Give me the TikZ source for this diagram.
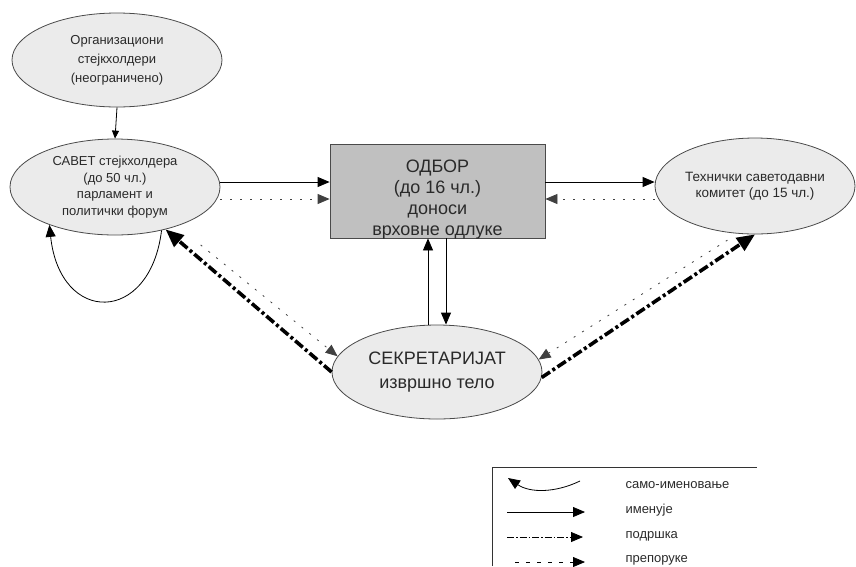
\documentclass[tikz,border=0pt]{standalone}
\usepackage{fontspec}
\setmainfont{Liberation Sans}
\usetikzlibrary{shapes.geometric,arrows.meta}
\definecolor{ellfill}{HTML}{EBEBEB}
\definecolor{boxfill}{HTML}{C0C0C0}
\definecolor{txt}{HTML}{2A2A2A}
\definecolor{edge}{HTML}{4A4A4A}

\tikzset{
  ell/.style={ellipse, draw=edge, fill=ellfill, line width=0.8pt, inner sep=0pt,
              text=txt, align=center},
  smalltxt/.style={font=\fontsize{13}{19}\selectfont},
  bigtxt/.style={font=\fontsize{18}{24}\selectfont},
  tipS/.style={-{Triangle[length=12pt,width=10pt]}},
  tipL/.style={-{Triangle[length=18pt,width=15pt]}},
  names/.style={line width=0.8pt, tipS},
  recommends/.style={line width=0.8pt, draw=black!75, dash pattern=on 2pt off 8pt, tipS},
  supports/.style={line width=3.6pt, dash pattern=on 10pt off 3pt on 3pt off 3pt, tipL},
  legtxt/.style={anchor=west, text=txt, font=\fontsize{13}{14}\selectfont},
}

\begin{document}
\begin{tikzpicture}[x=1pt,y=-1pt]
  \useasboundingbox (0,0) rectangle (856,566);

  % stakeholder groups and bodies
  \node[ell, smalltxt, minimum width=210pt, minimum height=94pt] (org) at (117,60)
    {Организациони\\стејкхолдери\\(неограничено)};
  \node[ell, font=\fontsize{13}{16.5}\selectfont, minimum width=210pt, minimum height=96pt] (savet) at (115,187)
    {САВЕТ стејкхолдера\\(до 50 чл.)\\парламент и\\политички форум};
  \node[draw=edge, fill=boxfill, line width=0.8pt, minimum width=215pt, minimum height=94pt,
        inner sep=0pt] (odbor) at (437.5,191) {};
  \node[text=txt, align=center, font=\fontsize{18}{21}\selectfont] (odbortxt) at (437.5,200)
    {ОДБОР\\(до 16 чл.)\\доноси\\врховне одлуке};
  \node[ell, font=\fontsize{13.5}{16}\selectfont, minimum width=200pt, minimum height=96pt] (tech) at (755,186)
    {Технички саветодавни\\комитет (до 15 чл.)};
  \node[ell, bigtxt, minimum width=210pt, minimum height=94pt] (sek) at (437,372)
    {СЕКРЕТАРИЈАТ\\извршно тело};

  % appointments
  \draw[line width=0.8pt, -{Triangle[length=8pt,width=7pt]}] (org.south) -- (savet.north);
  \draw[names] (savet.east |- 0,182) -- (odbor.west |- 0,182);
  \draw[names] (odbor.east |- 0,182) -- (tech.west |- 0,182);
  \draw[names] (sek.north -| 428,0) -- (odbor.south -| 428,0);
  \draw[names] (odbor.south -| 446,0) -- (sek.north -| 446,0);
  % self-appointment loop
  \draw[names] (savet.-43) .. controls (150,325) and (60,325) .. (savet.210);

  % recommendations
  \draw[recommends] (savet.east |- 0,199) -- (odbor.west |- 0,199);
  \draw[recommends] (tech.west |- 0,199) -- (odbor.east |- 0,199);
  \draw[recommends, shorten <=30pt] (savet.-32) -- (sek.171);
  \draw[recommends, shorten <=12pt] (tech.-110) -- (sek.7);

  % support
  \draw[supports] (sek.west) -- (savet.-40);
  \draw[supports] (sek.-3) -- (tech.south);

  % legend
  \coordinate (lgTL) at (492,467);
  \coordinate (lgTR) at (757,467);
  \coordinate (lgBL) at (492,566);
  \draw[line width=0.8pt, draw=black!80] (lgBL) -- (lgTL) -- (lgTR);

  \coordinate (l1a) at (580,481);
  \coordinate (l1b) at (508,478);
  \draw[names] (l1a) .. controls (555,493) and (530,493) .. (l1b);
  \node[legtxt] (lt1) at (622,485) {само-именовање};

  \coordinate (l2a) at (507,512);
  \coordinate (l2b) at (585,512);
  \draw[names] (l2a) -- (l2b);
  \node[legtxt] (lt2) at (622,510) {именује};

  \coordinate (l3a) at (507,537);
  \coordinate (l3b) at (583,537);
  \draw[line width=0.8pt, dash pattern=on 7pt off 2pt on 1.5pt off 2pt, tipS] (l3a) -- (l3b);
  \node[legtxt] (lt3) at (622,536) {подршка};

  \coordinate (l4a) at (515,562);
  \coordinate (l4b) at (585,562);
  \draw[line width=0.8pt, dash pattern=on 4pt off 7pt, tipS] (l4a) -- (l4b);
  \node[legtxt] (lt4) at (622,560) {препоруке};
\end{tikzpicture}
\end{document}
